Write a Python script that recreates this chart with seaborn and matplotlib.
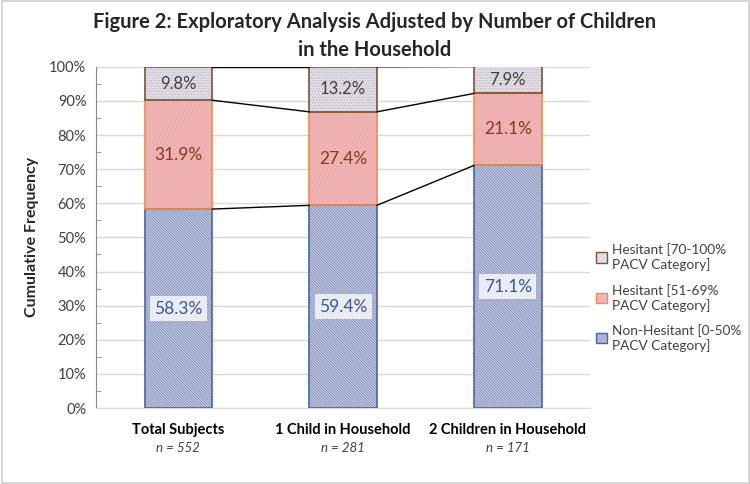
import numpy as np
import pandas as pd
import matplotlib.pyplot as plt
import seaborn as sns
from matplotlib.patches import Patch, Rectangle

# !! Dados !!
grupos = ['Total Subjects', '1 Child in Household', '2 Children in Household']
n_labels = ['n = 552', 'n = 281', 'n = 171']
nao_hesitante = [58.3, 59.4, 71.1]
hesitante_51_69 = [31.9, 27.4, 21.1]
hesitante_70_100 = [9.8, 13.2, 7.9]
serie_nomes = ['Non-Hesitant [0-50%\nPACV Category]',
               'Hesitant [51-69%\nPACV Category]',
               'Hesitant [70-100%\nPACV Category]']

sns.set_style('white')
plt.rcParams['font.family'] = ['Lato', 'DejaVu Sans']
plt.rcParams['hatch.linewidth'] = 0.5

df = pd.DataFrame({'grupo': grupos,
                   'nh': nao_hesitante,
                   'h1': hesitante_51_69,
                   'h2': hesitante_70_100})
base1 = df['nh'].to_numpy()
base2 = base1 + df['h1'].to_numpy()
topo = base2 + df['h2'].to_numpy()

fig = plt.figure(figsize=(7.5, 4.84), dpi=100)
ax = fig.add_axes([0.128, 0.157, 0.659, 0.705])
fig.patches.append(Rectangle((0.002, 0.002), 0.996, 0.996, transform=fig.transFigure,
                             fill=False, edgecolor='#d0d0d0', linewidth=1.2))

largura = 0.41
h_azul = '\\' * 12
h_rosa = '/' * 8
h_cinza = '.' * 6
# camadas: (coluna, base, cor, cor da hachura, hachura, cor da borda)
camadas = [
    ('nh', None, '#c8cde0', '#6f80b6', h_azul, '#4a62a8'),
    ('h1', base1, '#f0b4b4', '#eaa6a6', h_rosa, '#f08c48'),
    ('h2', base2, '#e2dde5', '#b9b0be', h_cinza, '#7b5236'),
]
for col, base, cor, cor_hatch, hatch, borda in camadas:
    kws = {} if base is None else {'bottom': base}
    # preenchimento com hachura (a cor da hachura vem da borda)
    sns.barplot(data=df, x='grupo', y=col, order=grupos, color=cor, width=largura,
                saturation=1, edgecolor=cor_hatch, linewidth=0, hatch=hatch, ax=ax,
                zorder=2, **kws)
    # contorno
    sns.barplot(data=df, x='grupo', y=col, order=grupos, color=borda, width=largura,
                saturation=1, fill=False, edgecolor=borda, linewidth=1.2, ax=ax,
                zorder=3, **kws)

# linhas de ligação entre as barras
for nivel in [base1, base2, topo]:
    for i in range(len(grupos) - 1):
        ax.plot([i + largura / 2, i + 1 - largura / 2], [nivel[i], nivel[i + 1]],
                color='black', linewidth=1, zorder=4)

# rótulos
for i in range(len(grupos)):
    ax.text(i, base1[i] / 2, f'{nao_hesitante[i]:.1f}%', ha='center', va='center',
            fontsize=12.5, color='#3f51a0', zorder=5,
            bbox=dict(boxstyle='square,pad=0.25', facecolor='#e9ecf4', edgecolor='none'))
    ax.text(i, base1[i] + hesitante_51_69[i] / 2, f'{hesitante_51_69[i]:.1f}%',
            ha='center', va='center', fontsize=12.5, color='#843c1c', zorder=5)
    ax.text(i, base2[i] + hesitante_70_100[i] / 2, f'{hesitante_70_100[i]:.1f}%',
            ha='center', va='center', fontsize=12, color='#404040', zorder=5)
    ax.text(i, -0.1, n_labels[i], transform=ax.get_xaxis_transform(), ha='center',
            va='top', fontsize=9.5, style='italic', color='#404040')

ax.set_xlim(-0.5, 2.5)
ax.set_ylim(0, 100)
ax.set_yticks(np.arange(0, 101, 10))
ax.set_yticks(np.arange(0, 101, 5), minor=True)
ax.set_yticklabels([f'{v}%' for v in range(0, 101, 10)], fontsize=10.5, color='#404040')
ax.set_xticks(range(len(grupos)))
ax.set_xticklabels(grupos, fontsize=10.5, fontweight='bold', color='black')
ax.tick_params(axis='x', length=0, pad=11)
ax.tick_params(axis='y', which='major', direction='inout', length=7, color='#888888')
ax.tick_params(axis='y', which='minor', direction='in', length=3.5, color='#888888', left=True)
ax.set_xlabel('')
ax.set_ylabel('Cumulative Frequency', fontsize=11.5, fontweight='bold', labelpad=7)
ax.yaxis.grid(True, color='#d9d9d9', linewidth=1)
ax.set_axisbelow(True)
for s in ['top', 'right']:
    ax.spines[s].set_visible(False)
ax.spines['left'].set_color('#888888')
ax.spines['bottom'].set_color('#d9d9d9')

handles = [Patch(facecolor='#e2dde5', edgecolor='#7b5236', label=serie_nomes[2]),
           Patch(facecolor='#f0b4b4', edgecolor='#f08c48', label=serie_nomes[1]),
           Patch(facecolor='#a9b3d3', edgecolor='#4a62a8', label=serie_nomes[0])]
fig.legend(handles=handles, loc='center left', bbox_to_anchor=(0.778, 0.385), frameon=False,
           fontsize=9.8, handlelength=0.8, handleheight=0.8, handletextpad=0.4,
           labelspacing=0.9, labelcolor='#404040')

fig.text(0.5, 0.975, 'Figure 2: Exploratory Analysis Adjusted by Number of Children\nin the Household',
         ha='center', va='top', fontsize=14.5, fontweight='bold', linespacing=1.5)

fig.savefig('out.png', dpi=100)
